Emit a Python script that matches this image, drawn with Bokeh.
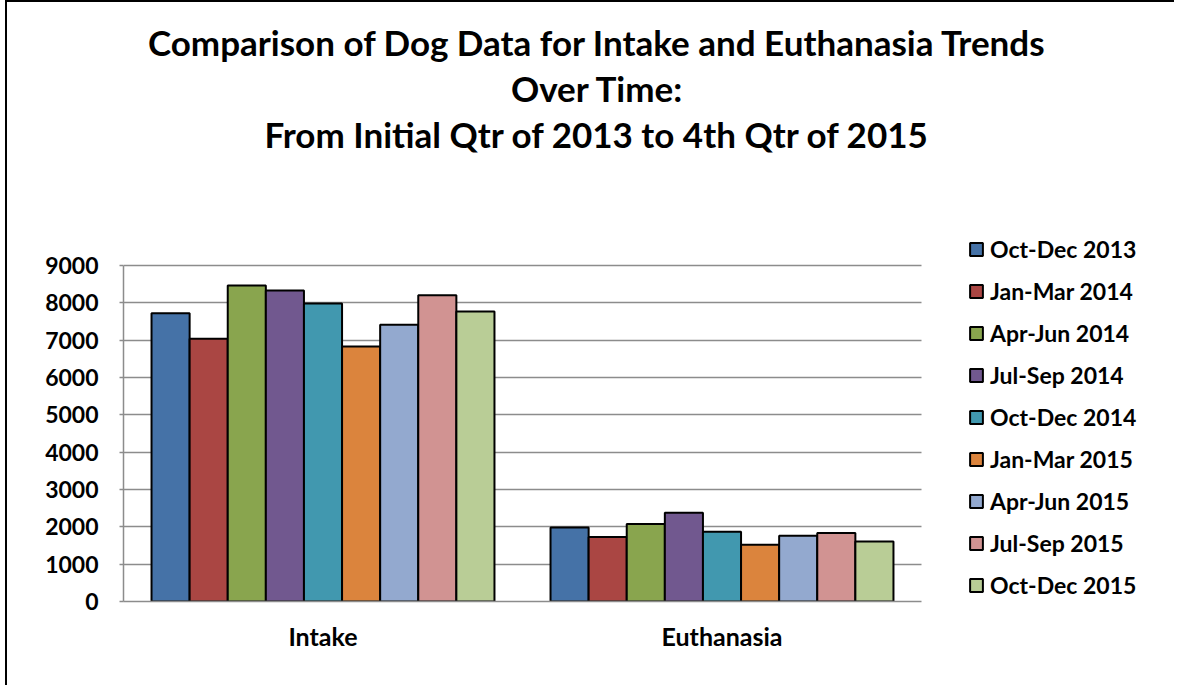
from bokeh.plotting import figure
from bokeh.models import (Legend, LegendItem, Label, Range1d, ColumnDataSource,
                          FixedTicker)
from bokeh.transform import dodge
from bokeh.embed import file_html
from bokeh.resources import INLINE

categories = ["Intake", "Euthanasia"]
periods = ["Oct-Dec 2013", "Jan-Mar 2014", "Apr-Jun 2014", "Jul-Sep 2014",
           "Oct-Dec 2014", "Jan-Mar 2015", "Apr-Jun 2015", "Jul-Sep 2015",
           "Oct-Dec 2015"]
intake = [7720, 7035, 8465, 8330, 7980, 6830, 7415, 8205, 7770]
euthanasia = [1985, 1725, 2075, 2380, 1870, 1520, 1760, 1835, 1610]
colors = ["#4572A7", "#AA4643", "#89A54E", "#71588F", "#4198AF",
          "#DB843D", "#93A9CF", "#D19392", "#B9CD96"]
y_ticks = [0, 1000, 2000, 3000, 4000, 5000, 6000, 7000, 8000, 9000]
title_lines = ["Comparison of Dog Data for Intake and Euthanasia Trends",
               "Over Time:",
               "From Initial Qtr of 2013 to 4th Qtr of 2015"]

FONT = "Lato"
GRID = "#8c8c8c"
W, H = 1169, 685
FL, FB = 116, 599          # frame left / bottom in canvas px
PLOT_TOP = 263             # canvas px of the 9000 line
CAT_PX = 399               # px per category
n_cat = len(categories)
pos = [i + 0.5 for i in range(n_cat)]
y_max = y_ticks[-1]

p = figure(width=W, height=H, output_backend="svg", toolbar_location=None,
           x_range=Range1d(0, (W - FL) / CAT_PX),
           y_range=Range1d(0, y_max * FB / (FB - PLOT_TOP)),
           min_border_left=FL, min_border_right=0,
           min_border_top=0, min_border_bottom=H - FB)
p.styles = {"border-top": "2px solid black", "border-left": "2px solid black",
            "margin-left": "5px"}
p.outline_line_color = None
p.background_fill_color = "white"
p.border_fill_color = "white"

# grid (only across the plotting area)
p.xgrid.grid_line_color = None
p.ygrid.ticker = FixedTicker(ticks=y_ticks)
p.ygrid.grid_line_color = GRID
p.ygrid.grid_line_width = 1.5
p.ygrid.cross_bounds = (0, n_cat)

# y axis
p.yaxis.ticker = FixedTicker(ticks=y_ticks)
p.yaxis.bounds = (0, y_max)
p.yaxis.axis_line_color = GRID
p.yaxis.axis_line_width = 1.5
p.yaxis.major_tick_line_color = GRID
p.yaxis.major_tick_line_width = 1.5
p.yaxis.major_tick_out = 4
p.yaxis.major_tick_in = 0
p.yaxis.minor_tick_line_color = None
p.yaxis.major_label_standoff = 21
p.yaxis.major_label_text_font = FONT
p.yaxis.major_label_text_font_style = "bold"
p.yaxis.major_label_text_font_size = "23px"
p.yaxis.major_label_text_color = "black"

# x axis
p.xaxis.ticker = FixedTicker(ticks=pos)
p.xaxis.major_label_overrides = {x: c for x, c in zip(pos, categories)}
p.xaxis.bounds = (0, n_cat)
p.xaxis.axis_line_color = GRID
p.xaxis.axis_line_width = 1.5
p.xaxis.major_tick_line_color = None
p.xaxis.minor_tick_line_color = None
p.xaxis.major_tick_out = 0
p.xaxis.major_tick_in = 0
p.xaxis.major_label_standoff = 19
p.xaxis.major_label_text_font = FONT
p.xaxis.major_label_text_font_style = "bold"
p.xaxis.major_label_text_font_size = "25px"
p.xaxis.major_label_text_color = "black"

bar_w = 0.0955
items = []
for i, (name, col) in enumerate(zip(periods, colors)):
    src = ColumnDataSource(dict(pos=pos, val=[intake[i], euthanasia[i]]))
    r = p.vbar(x=dodge("pos", (i - 4) * bar_w), top="val",
               width=bar_w, source=src, fill_color=col, line_color="black",
               line_width=2)
    items.append(LegendItem(label=name, renderers=[r]))

legend = Legend(items=items, location=(845, 1), padding=0, margin=0,
                border_line_color=None, background_fill_alpha=0,
                glyph_width=16, glyph_height=16, label_standoff=6,
                label_height=30, spacing=12,
                label_text_font=FONT, label_text_font_style="bold",
                label_text_font_size="23px", label_text_color="black")
p.add_layout(legend, "center")

cx = 590 - FL
for txt, base in zip(title_lines, [39, 85, 131]):
    p.add_layout(Label(x=cx, y=FB - base, x_units="screen", y_units="screen",
                       text=txt, text_align="center", text_baseline="alphabetic",
                       text_font=FONT, text_font_style="bold",
                       text_font_size="35px", text_color="black"))

open("out.html", "w").write(file_html(p, INLINE))
